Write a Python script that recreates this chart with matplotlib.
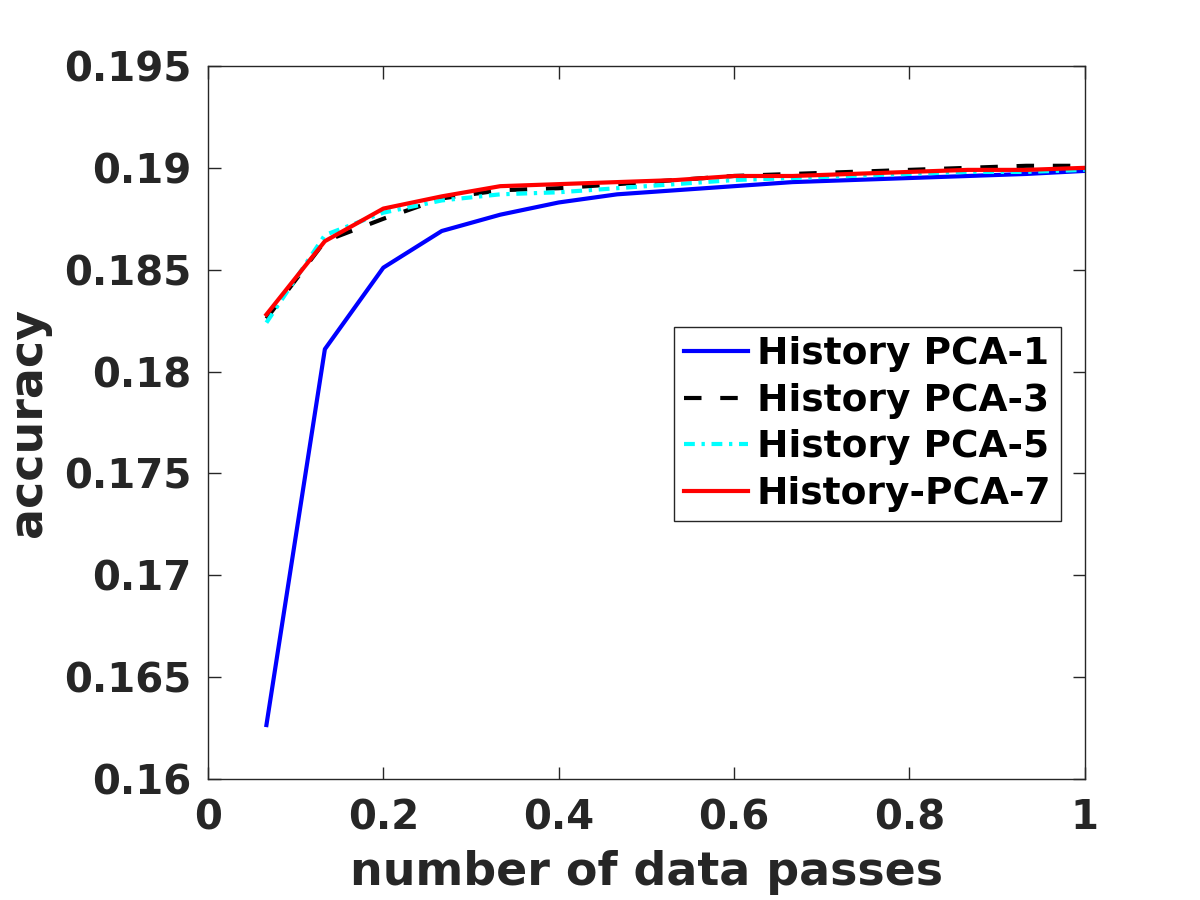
import numpy as np
from matplotlib import pyplot as plt
from matplotlib.ticker import FuncFormatter

# data passes (15 evaluation points)
passes = [1/15, 2/15, 3/15, 4/15, 5/15, 6/15, 7/15, 8/15, 9/15, 10/15,
          11/15, 12/15, 13/15, 14/15, 1.0]

pca1 = [0.16265, 0.1811, 0.1851, 0.1869, 0.1877, 0.1883, 0.1887, 0.1889,
        0.1891, 0.1893, 0.1894, 0.1895, 0.1896, 0.1897, 0.18985]
pca3 = [0.1826, 0.1864, 0.1875, 0.1885, 0.1889, 0.1890, 0.1892, 0.1894,
        0.1896, 0.1897, 0.1898, 0.1899, 0.1900, 0.1901, 0.1901]
pca5 = [0.1824, 0.1867, 0.1878, 0.1884, 0.1887, 0.1888, 0.1890, 0.1892,
        0.1894, 0.1895, 0.1896, 0.1897, 0.1898, 0.1898, 0.1899]
pca7 = [0.1828, 0.1864, 0.1880, 0.1886, 0.1891, 0.1892, 0.1893, 0.1894,
        0.1896, 0.1896, 0.1897, 0.1898, 0.1899, 0.1899, 0.1900]

labels = ["History PCA-1", "History PCA-3", "History PCA-5", "History-PCA-7"]

xticks = [0, 0.2, 0.4, 0.6, 0.8, 1]
yticks = [0.16, 0.165, 0.17, 0.175, 0.18, 0.185, 0.19, 0.195]

dark = "#262626"

fig = plt.figure(figsize=(12, 9), dpi=100)
ax = fig.add_axes([0.1733, 0.1344, 0.7307, 0.7923])

ax.plot(passes, pca1, color="#0000FF", lw=3, label=labels[0])
ax.plot(passes, pca3, color="black", lw=3, dashes=(4.2, 4.5), label=labels[1])
ax.plot(passes, pca5, color="#00FFFF", lw=3, dashes=(2.6, 1.6, 0.8, 1.6), label=labels[2])
ax.plot(passes, pca7, color="#FF0000", lw=3, label=labels[3])

ax.set_xlim(0, 1)
ax.set_ylim(0.16, 0.195)
ax.set_xticks(xticks)
ax.set_yticks(yticks)
ax.xaxis.set_major_formatter(FuncFormatter(lambda v, p: "%g" % v))
ax.yaxis.set_major_formatter(FuncFormatter(lambda v, p: "%g" % round(v, 4)))

ax.tick_params(direction="in", length=9, width=1, colors=dark,
               top=True, right=True, labelsize=29)
ax.tick_params(axis="x", pad=14)
ax.tick_params(axis="y", pad=12)
for lab in ax.get_xticklabels() + ax.get_yticklabels():
    lab.set_fontweight("bold")
for sp in ax.spines.values():
    sp.set_color(dark)
    sp.set_linewidth(1)

ax.set_xlabel("number of data passes", fontsize=33, fontweight="bold", color=dark, labelpad=8)
ax.set_ylabel("accuracy", fontsize=33, fontweight="bold", color=dark, labelpad=9)

leg = ax.legend(loc="upper left", bbox_to_anchor=(0.532, 0.634), fancybox=False,
                prop={"weight": "bold", "size": 27}, handlelength=1.7,
                handletextpad=0.25, labelspacing=0.28, borderpad=0.25,
                borderaxespad=0, framealpha=1)
leg.get_frame().set_edgecolor(dark)
leg.get_frame().set_linewidth(1)

fig.savefig("out.png", dpi=100)
